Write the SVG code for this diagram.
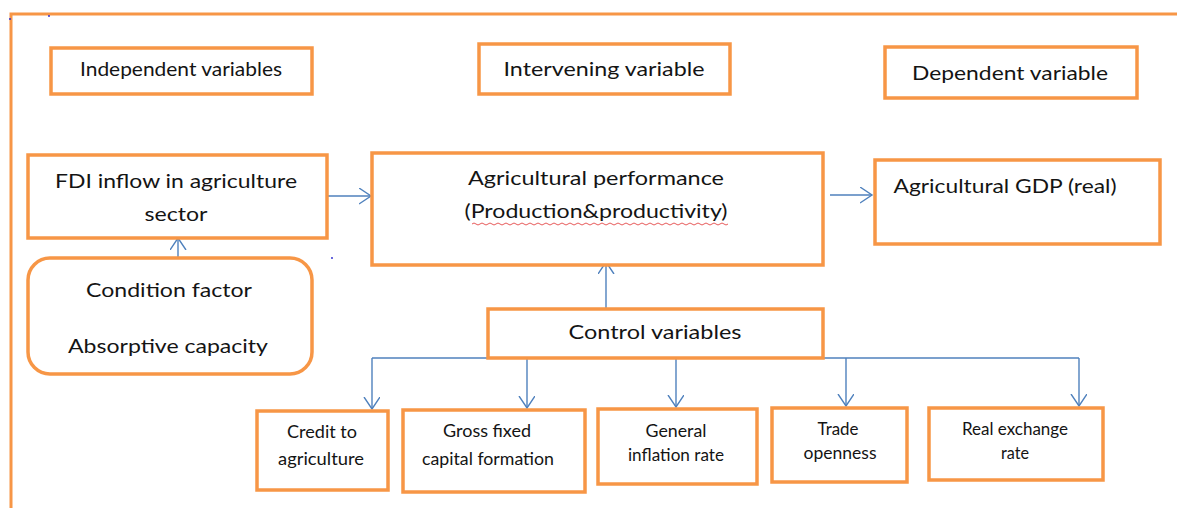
<svg xmlns="http://www.w3.org/2000/svg" width="1177" height="508" viewBox="0 0 1177 508">
  <style>
    .box { fill: #ffffff; stroke: #F79646; stroke-width: 3.5; }
    .frame { fill: none; stroke: #F79646; stroke-width: 3; }
    .conn { fill: none; stroke: #4F81BD; stroke-width: 1.4; }
    .t { font-family: Lato, "Open Sans", "Liberation Sans", sans-serif; fill: #141414; text-anchor: middle; }
    .big { font-size: 20px; }
    .hdr { font-size: 19px; }
    .sm { font-size: 16.5px; }
    .dot { fill: #2222cc; }
  </style>
  <defs>
    <marker id="arr" markerUnits="userSpaceOnUse" markerWidth="14" markerHeight="18" refX="12" refY="8" orient="auto">
      <path d="M0,0 L12,8 L0,16" fill="none" stroke="#4F81BD" stroke-width="1.4"/>
    </marker>
  </defs>
  <rect width="1177" height="508" fill="#ffffff"/>
  <path class="frame" d="M11,508 L11,14 L1177,14"/>
  <circle class="dot" cx="10" cy="19" r="0.9"/>
  <circle class="dot" cx="49" cy="16" r="0.9"/>
  <circle class="dot" cx="332" cy="258" r="0.9"/>

  <g id="connectors">
    <path class="conn" d="M327,196 L371,196" marker-end="url(#arr)"/>
    <path class="conn" d="M830,195 L872,195" marker-end="url(#arr)"/>
    <path class="conn" d="M178,264 L178,238" marker-end="url(#arr)"/>
    <path class="conn" d="M606,309 L606,262" marker-end="url(#arr)"/>
    <path class="conn" d="M372,358 L1079,358"/>
    <path class="conn" d="M372,358 L372,409" marker-end="url(#arr)"/>
    <path class="conn" d="M527,358 L527,408" marker-end="url(#arr)"/>
    <path class="conn" d="M676,358 L676,407" marker-end="url(#arr)"/>
    <path class="conn" d="M846,358 L846,406" marker-end="url(#arr)"/>
    <path class="conn" d="M1079,358 L1079,406" marker-end="url(#arr)"/>
  </g>

  <g id="independent-variables">
    <rect class="box" x="51" y="48" width="261" height="46"/>
    <text class="t hdr" x="181" y="76" textLength="202" lengthAdjust="spacingAndGlyphs">Independent variables</text>
  </g>
  <g id="intervening-variable">
    <rect class="box" x="479" y="44" width="251" height="50"/>
    <text class="t hdr" x="604" y="76" textLength="201" lengthAdjust="spacingAndGlyphs">Intervening variable</text>
  </g>
  <g id="dependent-variable">
    <rect class="box" x="885" y="47" width="252" height="51"/>
    <text class="t hdr" x="1010" y="80" textLength="196" lengthAdjust="spacingAndGlyphs">Dependent variable</text>
  </g>

  <g id="fdi">
    <rect class="box" x="28" y="155" width="299" height="83"/>
    <text class="t big" x="176" y="188" textLength="242" lengthAdjust="spacingAndGlyphs">FDI inflow in agriculture</text>
    <text class="t big" x="176" y="221" textLength="63" lengthAdjust="spacingAndGlyphs">sector</text>
  </g>
  <g id="agricultural-performance">
    <rect class="box" x="372" y="153" width="451" height="112"/>
    <text class="t big" x="596" y="185" textLength="256" lengthAdjust="spacingAndGlyphs">Agricultural performance</text>
    <text class="t big" x="596" y="218" textLength="263" lengthAdjust="spacingAndGlyphs">(Production&amp;productivity)</text>
    <path d="M472,224 q2,-2 4,0 t4,0 t4,0 t4,0 t4,0 t4,0 t4,0 t4,0 t4,0 t4,0 t4,0 t4,0 t4,0 t4,0 t4,0 t4,0 t4,0 t4,0 t4,0 t4,0 t4,0 t4,0 t4,0 t4,0 t4,0 t4,0 t4,0 t4,0 t4,0 t4,0 t4,0 t4,0 t4,0 t4,0 t4,0 t4,0 t4,0 t4,0 t4,0 t4,0 t4,0 t4,0 t4,0 t4,0 t4,0 t4,0 t4,0 t4,0 t4,0 t4,0 t4,0 t4,0 t4,0 t4,0 t4,0 t4,0 t4,0 t4,0 t4,0 t4,0 t4,0 t4,0 t4,0 t4,0" fill="none" stroke="#e03030" stroke-width="0.8"/>
  </g>
  <g id="agricultural-gdp">
    <rect class="box" x="875" y="160" width="285" height="84"/>
    <text class="t big" x="1005" y="193" textLength="223" lengthAdjust="spacingAndGlyphs">Agricultural GDP (real)</text>
  </g>
  <g id="condition-factor">
    <rect class="box" x="28" y="258" width="284" height="116" rx="22" ry="22"/>
    <text class="t big" x="169" y="297" textLength="166" lengthAdjust="spacingAndGlyphs">Condition factor</text>
    <text class="t big" x="168" y="353" textLength="200" lengthAdjust="spacingAndGlyphs">Absorptive capacity</text>
  </g>
  <g id="control-variables">
    <rect class="box" x="488" y="309" width="335" height="49"/>
    <text class="t big" x="655" y="339" textLength="173" lengthAdjust="spacingAndGlyphs">Control variables</text>
  </g>

  <g id="credit">
    <rect class="box" x="257" y="411" width="131" height="79"/>
    <text class="t sm" x="322" y="438" textLength="70" lengthAdjust="spacingAndGlyphs">Credit to</text>
    <text class="t sm" x="321" y="465" textLength="86" lengthAdjust="spacingAndGlyphs">agriculture</text>
  </g>
  <g id="gross-fixed">
    <rect class="box" x="403" y="410" width="182" height="82"/>
    <text class="t sm" x="487" y="437" textLength="88" lengthAdjust="spacingAndGlyphs">Gross fixed</text>
    <text class="t sm" x="488" y="465" textLength="132" lengthAdjust="spacingAndGlyphs">capital formation</text>
  </g>
  <g id="inflation">
    <rect class="box" x="598" y="409" width="159" height="75"/>
    <text class="t sm" x="676" y="437" textLength="61" lengthAdjust="spacingAndGlyphs">General</text>
    <text class="t sm" x="676" y="461" textLength="96" lengthAdjust="spacingAndGlyphs">inflation rate</text>
  </g>
  <g id="trade">
    <rect class="box" x="772" y="408" width="135" height="74"/>
    <text class="t sm" x="838" y="435" textLength="41" lengthAdjust="spacingAndGlyphs">Trade</text>
    <text class="t sm" x="840" y="459" textLength="73" lengthAdjust="spacingAndGlyphs">openness</text>
  </g>
  <g id="exchange">
    <rect class="box" x="929" y="408" width="174" height="72"/>
    <text class="t sm" x="1015" y="435" textLength="106" lengthAdjust="spacingAndGlyphs">Real exchange</text>
    <text class="t sm" x="1015" y="459" textLength="28" lengthAdjust="spacingAndGlyphs">rate</text>
  </g>
</svg>
